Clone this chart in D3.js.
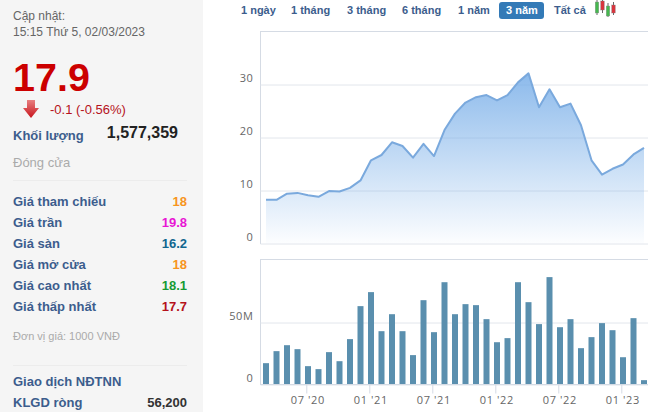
<!DOCTYPE html>
<html><head><meta charset="utf-8">
<script src="https://cdn.jsdelivr.net/npm/d3@7"></script>
<style>html,body{margin:0;padding:0;background:#fff}svg{display:block}text{font-family:"Liberation Sans",Arial,sans-serif}</style>
</head><body><svg id="c" width="656" height="412"></svg>
<script>
const prices=[8.24,8.24,9.4,9.55,9.1,8.8,9.9,9.8,10.5,11.9,15.7,16.7,19.1,18.4,16.2,18.8,16.5,21.4,24.5,26.6,27.6,28.0,27.0,28.0,30.4,32.1,25.7,29.1,25.7,26.4,22.3,15.7,13.0,14.1,14.9,16.8,18.05];
const volumes=[17.2,26.9,31.7,28.5,14.8,12.4,26.1,18.8,36.6,63.2,74.5,43,56.7,43,23.7,68,42.2,82.5,56.7,64.8,64,52.7,34.1,37.4,82.5,66.4,48.7,86.6,46.2,52.7,29.3,38.2,49.5,43.8,22,53.5,3.5];
const priceTicks=[0,10,20,30];
const volumeTicks=[0,50];
const monthTicks=[4,10,16,22,28,34];
const monthLabels=["07 '20","01 '21","07 '21","01 '22","07 '22","01 '23"];
const ranges=["1 ngày","1 tháng","3 tháng","6 tháng","1 năm","3 năm","Tất cả"];
const activeRange="3 năm";
const stats=[["Giá tham chiếu","18","#f7941d"],["Giá trần","19.8","#e815d4"],["Giá sàn","16.2","#11668f"],["Giá mở cửa","18","#f7941d"],["Giá cao nhất","18.1","#179a33"],["Giá thấp nhất","17.7","#b5121b"]];

const svg=d3.select("#c");
const BLUE="#3c5d8d";
const defs=svg.append("defs");
const g=defs.append("linearGradient").attr("id","ag");
g.append("stop").attr("offset","0").attr("stop-color","#78aee8").attr("stop-opacity",0.85);
g.append("stop").attr("offset","1").attr("stop-color","#78aee8").attr("stop-opacity",0.02);
const ar=defs.append("linearGradient").attr("id","arr").attr("x1",0).attr("y1",0).attr("x2",0).attr("y2",1);
ar.append("stop").attr("offset","0").attr("stop-color","#e88080");
ar.append("stop").attr("offset","1").attr("stop-color","#c8141c");

// left panel
svg.append("rect").attr("x",0).attr("y",0).attr("width",203).attr("height",412).attr("fill","#f5f5f5");
function t(x,y,s,size,color,weight,anchor,ls){
  return svg.append("text").attr("x",x).attr("y",y).text(s).attr("font-size",size).attr("fill",color)
   .attr("font-weight",weight||"normal").attr("text-anchor",anchor||"start").attr("letter-spacing",ls||0);
}
t(13,20,"Cập nhật:",12,"#666");
t(13,36,"15:15 Thứ 5, 02/03/2023",12,"#666");
t(13,90.5,"17.9",39.5,"#cc0000","bold");
svg.append("path").attr("d","M27 100H35V108H39L31 118L23 108H27Z").attr("fill","url(#arr)");
t(50,113.5,"-0.1 (-0.56%)",13,"#b5121b");
t(13,140,"Khối lượng",13,BLUE,"bold");
t(178,138,"1,577,359",16,"#222","bold","end");
t(13,167,"Đóng cửa",13,"#aaa");
svg.append("line").attr("x1",13).attr("x2",187).attr("y1",180.5).attr("y2",180.5).attr("stroke","#ececec");
svg.selectAll("g.stat").data(stats).join("g").attr("class","stat").each(function(d,i){
  const y=206+i*21, s=d3.select(this);
  s.append("text").attr("x",13).attr("y",y).text(d[0]).attr("font-size",13).attr("font-weight","bold").attr("fill",BLUE);
  s.append("text").attr("x",187).attr("y",y).text(d[1]).attr("font-size",13).attr("font-weight","bold").attr("fill",d[2]).attr("text-anchor","end");
});
t(13,340,"Đơn vị giá: 1000 VNĐ",11,"#aaa");
svg.append("line").attr("x1",13).attr("x2",187).attr("y1",365.5).attr("y2",365.5).attr("stroke","#ececec");
t(13,386,"Giao dịch NĐTNN",13,BLUE,"bold");
t(13,407,"KLGD ròng",13,BLUE,"bold");
t(187,407,"56,200",13,"#333","bold","end");

// range buttons
const btnX=[241,291,347,402,458,506,554];
svg.append("rect").attr("x",499).attr("y",2).attr("width",45).attr("height",17).attr("rx",3).attr("fill","#337ab7");
svg.selectAll("text.rng").data(ranges).join("text").attr("class","rng")
  .attr("x",(d,i)=>btnX[i]).attr("y",14).text(d=>d).attr("font-size",11).attr("font-weight","bold")
  .attr("fill",d=>d===activeRange?"#fff":BLUE);
// candle icon
const candles=[[597,2,11,0,15,"#45b84f"],[602.5,1,9,0,13,"#d8343d"],[608,6,10,3,17,"#45b84f"],[613.5,5,8,2,15,"#d8343d"]];
candles.forEach(c=>{
  svg.append("line").attr("x1",c[0]).attr("x2",c[0]).attr("y1",c[3]).attr("y2",c[4]).attr("stroke","#666").attr("stroke-width",1);
  svg.append("rect").attr("x",c[0]-1.75).attr("y",c[1]).attr("width",3.5).attr("height",c[2]).attr("fill",c[5]).attr("stroke","#888").attr("stroke-width",0.4);
});

// scales
const x=d3.scaleLinear().domain([0,prices.length-1]).range([266,644]);
const yP=d3.scaleLinear().domain([0,40]).range([243.5,31.5]);
const yV=d3.scaleLinear().domain([0,50]).range([384.5,322.5]);
const L=260.5,R=648;
const AX="#d5dbe4",GR="#e2e6ec",TXT="#666";

function yAxis(scale,fmt,ticks,dy){
  const a=svg.append("g").attr("transform",`translate(${L},0)`)
    .call(d3.axisLeft(scale).tickValues(ticks).tickSize(-(R-L)).tickPadding(7).tickFormat(fmt));
  a.select(".domain").remove();
  a.selectAll(".tick line").attr("stroke",GR);
  a.selectAll(".tick text").attr("dy",dy).attr("font-size",11).attr("fill",TXT).attr("letter-spacing",0.6)
    .style("font-family","'Open Sans'");
}
// price chart
svg.append("line").attr("x1",L).attr("x2",R).attr("y1",31.5).attr("y2",31.5).attr("stroke",AX);
svg.append("line").attr("x1",L).attr("x2",L).attr("y1",31).attr("y2",244).attr("stroke",AX);
yAxis(yP,d=>d,priceTicks,"-0.3em");
const area=d3.area().x((d,i)=>x(i)).y0(yP(0)).y1(d=>yP(d));
const line=d3.line().x((d,i)=>x(i)).y(d=>yP(d));
g.attr("gradientUnits","userSpaceOnUse").attr("x1",0).attr("x2",0).attr("y1",yP(d3.max(prices))).attr("y2",yP(0));
svg.append("path").datum(prices).attr("d",area).attr("fill","url(#ag)");
svg.append("path").datum(prices).attr("d",line).attr("fill","none").attr("stroke","#7aa9dd").attr("stroke-width",2).attr("stroke-linejoin","round");

// volume chart
svg.append("line").attr("x1",L).attr("x2",R).attr("y1",259.5).attr("y2",259.5).attr("stroke",AX);
svg.append("line").attr("x1",L).attr("x2",L).attr("y1",259).attr("y2",385).attr("stroke",AX);
yAxis(yV,d=>d?d+"M":"0",volumeTicks,"-0.3em");
const bw=6;
svg.selectAll("rect.v").data(volumes).join("rect").attr("class","v")
  .attr("x",(d,i)=>x(i)-bw/2).attr("width",bw).attr("y",d=>yV(d)).attr("height",d=>yV(0)-yV(d)).attr("fill","#5a8fae");
const xa=svg.append("g").attr("transform","translate(-1.7,384.5)")
  .call(d3.axisBottom(x).tickValues(monthTicks).tickSize(9).tickPadding(3).tickFormat((d,i)=>monthLabels[i]));
xa.select(".domain").remove();
xa.selectAll(".tick line").attr("stroke",AX);
xa.selectAll(".tick text").attr("dx",1).attr("font-size",11).attr("fill",TXT).attr("letter-spacing",0.6).style("font-family","'Open Sans'");
svg.append("line").attr("x1",L).attr("x2",R).attr("y1",384.5).attr("y2",384.5).attr("stroke",AX);
</script></body></html>
